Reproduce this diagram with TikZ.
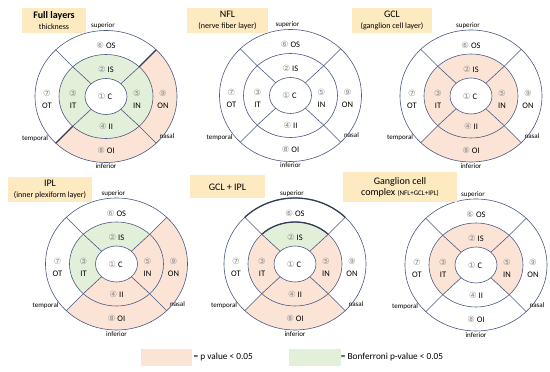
\documentclass[tikz,border=0pt]{standalone}
\usepackage{fontspec}
\setmainfont{Carlito}
\newfontfamily\numfont{DejaVu Sans}
\usetikzlibrary{positioning}
\definecolor{pcol}{RGB}{251,228,214}
\definecolor{bcol}{RGB}{226,239,217}
\definecolor{tcol}{RGB}{253,234,193}
\definecolor{lcol}{RGB}{75,88,128}
\definecolor{ncol}{RGB}{140,140,140}
\begin{document}
\begin{tikzpicture}[
    x=1pt, y=1pt,
    ring/.style={draw=lcol, line width=0.6pt},
    edge/.style={draw=lcol!70!black, line width=1.3pt},
    title/.style={fill=tcol, align=center, inner sep=0pt, minimum height=25pt, font=\fontsize{10}{11}\selectfont},
    lbl/.style={align=center, inner sep=0pt, font=\fontsize{8.5}{12}\selectfont},
    side/.style={inner sep=0pt, font=\fontsize{7}{8}\selectfont},
    keybox/.style={minimum width=51.6pt, minimum height=16.7pt, inner sep=0pt},
    key/.style={inner sep=0pt, font=\fontsize{9.3}{10}\selectfont}
]
    \fill[white] (0,0) rectangle (550,372);
    \useasboundingbox (0,0) rectangle (550,372);

    % one ring chart per layer: inner fills S/T/I/N, then outer fills S/T/I/N
    \foreach \p/\cx/\cy/\ua/\ub/\uc/\ud/\va/\vb/\vc/\vd in {
        full/106/275.5/bcol/bcol/bcol/bcol/white/white/pcol/pcol,
        nfl/290.5/276.5/white/white/white/white/white/white/white/white,
        gcl/471/276/pcol/pcol/pcol/pcol/white/white/pcol/white,
        ipl/116.5/108/bcol/bcol/pcol/pcol/white/white/pcol/pcol,
        gip/295/108/bcol/pcol/pcol/pcol/white/white/pcol/white,
        gcc/476/107/pcol/pcol/white/pcol/white/white/white/white} {
    \begin{scope}[shift={(\cx,\cy)}]
        \foreach \a/\f/\g in {45/\ua/\va, 135/\ub/\vb, 225/\uc/\vc, 315/\ud/\vd} {
            \fill[fill=\f] (\a:21 and 18) arc[start angle=\a, end angle=\a+90, x radius=21, y radius=18]
                -- ({\a+90}:47 and 42) arc[start angle=\a+90, end angle=\a, x radius=47, y radius=42] -- cycle;
            \fill[fill=\g] (\a:47 and 42) arc[start angle=\a, end angle=\a+90, x radius=47, y radius=42]
                -- ({\a+90}:71 and 66) arc[start angle=\a+90, end angle=\a, x radius=71, y radius=66] -- cycle;
        }
        \foreach \a in {45,135,225,315}
            \draw[ring] (\a:21 and 18) -- (\a:47 and 42) -- (\a:71 and 66);
        \draw[ring] (0,0) ellipse[x radius=21, y radius=18]
                    (0,0) ellipse[x radius=47, y radius=42]
                    (0,0) ellipse[x radius=71, y radius=66];
        \node[lbl] (\p-os) at (0,51) {\textcolor{ncol}{\numfont ⑥} OS};
        \node[lbl] (\p-is) at (0,27) {\textcolor{ncol}{\numfont ②} IS};
        \node[lbl] (\p-c) at (-1,0) {\textcolor{ncol}{\numfont ①} C};
        \node[lbl] (\p-it) at (-33,-3) {\textcolor{ncol}{\numfont ③}\\IT};
        \node[lbl] (\p-in) at (31,-3) {\textcolor{ncol}{\numfont ⑤}\\IN};
        \node[lbl] (\p-ot) at (-59,-3) {\textcolor{ncol}{\numfont ⑦}\\OT};
        \node[lbl] (\p-on) at (57,-3) {\textcolor{ncol}{\numfont ⑨}\\ON};
        \node[lbl] (\p-ii) at (0,-30) {\textcolor{ncol}{\numfont ④} II};
        \node[lbl] (\p-oi) at (0,-54) {\textcolor{ncol}{\numfont ⑧} OI};
        \node[side] (\p-sup) at (-3,70.5) {superior};
        \node[side] (\p-inf) at (0,-70) {inferior};
        \node[side] (\p-tem) at (-71,-42) {temporal};
        \node[side] (\p-nas) at (61,-40) {nasal};
    \end{scope}
    }

    % highlighted borders
    \begin{scope}[shift={(106,275.5)}]
        \draw[edge] (45:47 and 42) -- (45:71 and 66) (225:47 and 42) -- (225:71 and 66);
    \end{scope}
    \begin{scope}[shift={(295,108)}]
        \draw[edge] (45:71 and 66) arc[start angle=45, end angle=135, x radius=71, y radius=66]
                    (45:47 and 42) arc[start angle=45, end angle=135, x radius=47, y radius=42];
    \end{scope}

    % titles
    \node[title, minimum width=64pt] (t-full) at (54,351.5) {\textbf{Full layers}\\{\fontsize{8}{9}\selectfont thickness}};
    \node[title, minimum width=81pt] (t-nfl) at (227.5,351.5) {NFL\\{\fontsize{8}{9}\selectfont (nerve fiber layer)}};
    \node[title, minimum width=80pt] (t-gcl) at (392,351.5) {GCL\\{\fontsize{8}{9}\selectfont (ganglion cell layer)}};
    \node[title, minimum width=84pt] (t-ipl) at (50,182.5) {IPL\\{\fontsize{8}{9}\selectfont (inner plexiform layer)}};
    \node[title, minimum width=75pt, minimum height=23pt] (t-gip) at (227.5,185) {GCL + IPL};
    \node[title, minimum width=114pt, minimum height=30pt] (t-gcc) at (400,185) {Ganglion cell\\complex {\fontsize{7}{8}\selectfont (NFL+GCL+IPL)}};

    % legend
    \node[keybox, fill=pcol] (pkey) at (166.5,14.7) {};
    \node[key, right=1pt of pkey] (ptext) {= p value < 0.05};
    \node[keybox, fill=bcol] (bkey) at (314.7,14.7) {};
    \node[key, right=0pt of bkey] (btext) {= Bonferroni p-value < 0.05};
\end{tikzpicture}
\end{document}
